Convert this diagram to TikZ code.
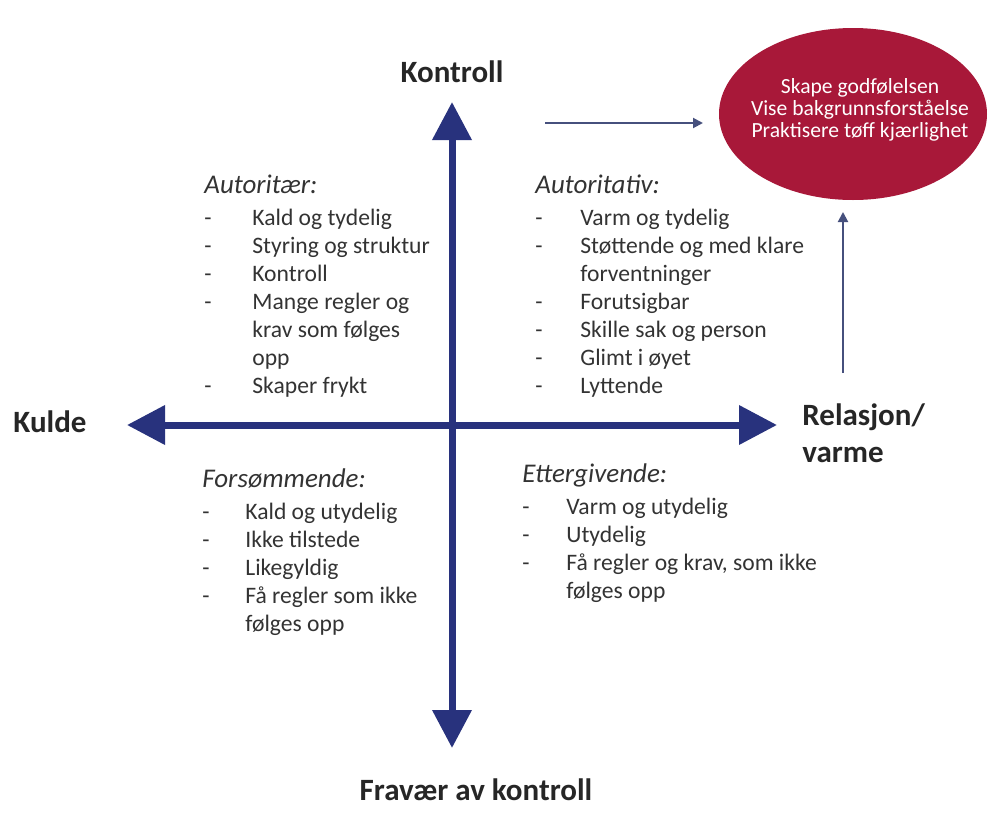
\documentclass[tikz,border=0pt]{standalone}
\usepackage{fontspec}
\setmainfont{Carlito}
\usepackage{xcolor}
\usepackage{tikz}
\usetikzlibrary{arrows.meta,shapes.geometric}

\definecolor{axisblue}{RGB}{40,50,125}
\definecolor{hintblue}{RGB}{70,80,125}
\definecolor{goalred}{RGB}{168,24,57}
\newcommand{\headfont}{\fontsize{13.5}{14}\selectfont\itshape}

\begin{document}
\begin{tikzpicture}
  [x=0.5pt,y=-0.5pt,
   axis/.style={line width=3.5pt,draw=axisblue,{Triangle[length=19pt,width=19pt]}-{Triangle[length=19pt,width=19pt]}},
   hint/.style={line width=1pt,draw=hintblue,-{Triangle[length=5pt,width=5pt]}},
   pole/.style={inner sep=0pt,font=\fontsize{15.5}{18.5}\selectfont\bfseries,text=black!85},
   block/.style={inner sep=0pt,anchor=base west,font=\fontsize{11.8}{14}\selectfont,text=black!80},
   goal/.style={ellipse,fill=goalred,minimum width=134pt,minimum height=86pt,inner sep=0pt},
   goaltext/.style={align=center,text=white,font=\fontsize{10.8}{11}\selectfont,inner sep=0pt}] % pixel grid, y runs downwards

    \useasboundingbox (0,0) rectangle (992,814);

    % axes
    \coordinate (top)    at (452,102);
    \coordinate (bottom) at (452,748);
    \coordinate (left)   at (127,425);
    \coordinate (right)  at (777,425);

    \draw [axis] (bottom) -- (top);
    \draw [axis] (left) -- (right);

    \node[pole, anchor=base]      (kontroll) at (452,82)  {Kontroll};
    \node[pole, anchor=base]      (fravaer)  at (476,800) {Fravær av kontroll};
    \node[pole, anchor=base west] (kulde)    at (13,432)  {Kulde};
    \node[pole, anchor=base west, align=left] (varme) at (802,462) {Relasjon/\\varme}; % base = last line

    % goal ellipse
    \node[goal] (goal) at (853,114) {};
    \node[goaltext] (goaltxt) at (860,110) {Skape godfølelsen\\Vise bakgrunnsforståelse\\Praktisere tøff kjærlighet};

    \coordinate (hstart) at (545,123);
    \coordinate (hend)   at (703,123);
    \coordinate (vstart) at (843,373);
    \coordinate (vend)   at (843,212);

    \draw [hint] (hstart) -- (hend);
    \draw [hint] (vstart) -- (vend);

    % quadrants
    \node[block] (autoritaer) at (204,193) {\begin{tabular}[t]{@{}p{24pt}@{}l@{}}
      \multicolumn{2}{@{}l@{}}{\headfont Autoritær:}\\[2pt]
      - & Kald og tydelig\\
      - & Styring og struktur\\
      - & Kontroll\\
      - & Mange regler og\\
        & krav som følges\\
        & opp\\
      - & Skaper frykt
    \end{tabular}};

    \node[block] (autoritativ) at (535,193) {\begin{tabular}[t]{@{}p{22.5pt}@{}l@{}}
      \multicolumn{2}{@{}l@{}}{\headfont Autoritativ:}\\[2pt]
      - & Varm og tydelig\\
      - & Støttende og med klare\\
        & forventninger\\
      - & Forutsigbar\\
      - & Skille sak og person\\
      - & Glimt i øyet\\
      - & Lyttende
    \end{tabular}};

    \node[block] (forsommende) at (202,487) {\begin{tabular}[t]{@{}p{21.5pt}@{}l@{}}
      \multicolumn{2}{@{}l@{}}{\headfont Forsømmende:}\\[2pt]
      - & Kald og utydelig\\
      - & Ikke tilstede\\
      - & Likegyldig\\
      - & Få regler som ikke\\
        & følges opp
    \end{tabular}};

    \node[block] (ettergivende) at (522,482) {\begin{tabular}[t]{@{}p{22pt}@{}l@{}}
      \multicolumn{2}{@{}l@{}}{\headfont Ettergivende:}\\[2pt]
      - & Varm og utydelig\\
      - & Utydelig\\
      - & Få regler og krav, som ikke\\
        & følges opp
    \end{tabular}};

\end{tikzpicture}
\end{document}
